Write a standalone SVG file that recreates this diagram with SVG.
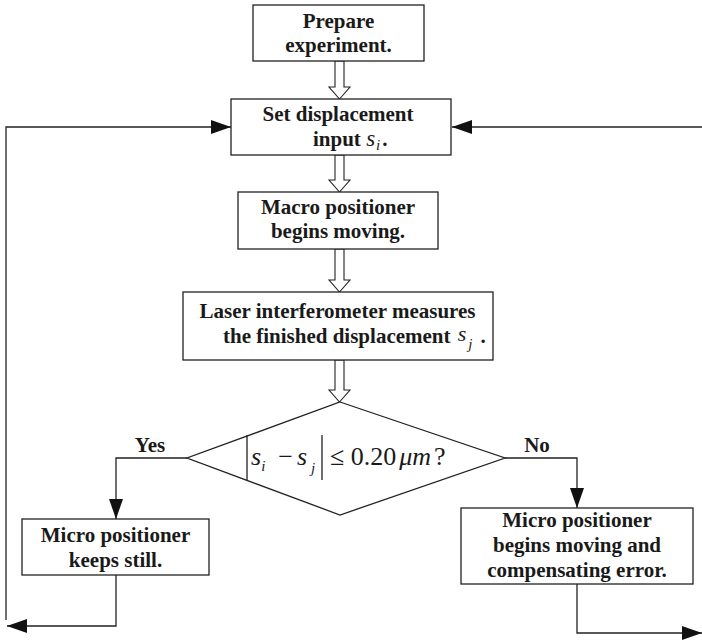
<svg xmlns="http://www.w3.org/2000/svg" width="702" height="640" viewBox="0 0 702 640">
<style>
.box{fill:#fff;stroke:#222;stroke-width:1.3}
.ln{fill:none;stroke:#222;stroke-width:1.3}
.hol{fill:#fff;stroke:#222;stroke-width:1.1}
text{font-family:"Liberation Serif","DejaVu Serif","Times New Roman",Times,serif;fill:#1a1a1a}
.t{font-weight:bold;font-size:21px;text-anchor:middle}
.ts{font-weight:bold;font-size:21px}
.i{font-style:italic;font-weight:normal}
.m{font-size:26px}
.sub{font-style:italic;font-weight:normal;font-size:15px}
</style>
<defs>
<marker id="ah" viewBox="0 0 20 14" refX="20" refY="7" markerWidth="20" markerHeight="14" markerUnits="userSpaceOnUse" orient="auto">
<path d="M0,0 L20,7 L0,14 Z" fill="#111"/>
</marker>
</defs>
<g id="connectors">
<path class="hol" d="M335,61 L344,61 L344,87 L350,87 L339.5,99 L329,87 L335,87 Z"/>
<path class="hol" d="M335,155 L344,155 L344,180 L350,180 L339.5,192 L329,180 L335,180 Z"/>
<path class="hol" d="M335,249 L344,249 L344,280 L350,280 L339.5,292 L329,280 L335,280 Z"/>
<path class="hol" d="M335,360 L344,360 L344,390 L350,390 L339.5,402 L329,390 L335,390 Z"/>
<path class="ln" d="M187,458 L116,458 L116,519" marker-end="url(#ah)"/>
<path class="ln" d="M505,458 L577,458 L577,508" marker-end="url(#ah)"/>
<path class="ln" d="M116,575 L116,626 L7,626" marker-end="url(#ah)"/>
<path class="ln" d="M577,584 L577,633 L702,633" marker-end="url(#ah)"/>
<path class="ln" d="M6,620 L6,127 L231,127" marker-end="url(#ah)"/>
<path class="ln" d="M702,127 L452,127" marker-end="url(#ah)"/>
</g>
<g id="prepare">
<rect class="box" x="253" y="5" width="171" height="56"/>
<text class="t" x="338.5" y="28">Prepare</text>
<text class="t" x="338.5" y="52">experiment.</text>
</g>
<g id="set">
<rect class="box" x="231" y="99" width="220" height="56"/>
<text class="t" x="338" y="121">Set displacement</text>
<text class="ts" x="313" y="146">input <tspan class="i" font-size="23">s</tspan><tspan class="sub" dy="4" dx="1">i</tspan><tspan dy="-4" dx="2">.</tspan></text>
</g>
<g id="macro">
<rect class="box" x="238" y="192" width="200" height="57"/>
<text class="t" x="338" y="214">Macro positioner</text>
<text class="t" x="338" y="238">begins moving.</text>
</g>
<g id="laser">
<rect class="box" x="183" y="292" width="310" height="68"/>
<text class="t" x="337.5" y="318">Laser interferometer measures</text>
<text class="ts" x="223" y="343">the finished displacement <tspan class="i" font-size="22" dy="-2" dx="2">s</tspan><tspan class="sub" dy="8" dx="2">j</tspan><tspan dy="-6" dx="8">.</tspan></text>
</g>
<g id="decision">
<path class="box" d="M340,402 L505,458 L340,515 L187,458 Z"/>
<path class="ln" d="M247,435 L247,480 M322,435 L322,480"/>
<text class="m" x="251" y="465"><tspan class="i">s</tspan><tspan class="sub" dy="6">i</tspan><tspan dy="-6" dx="13">−</tspan><tspan class="i" dx="4">s</tspan><tspan class="sub" dy="8" dx="4">j</tspan></text>
<text class="m" x="330" y="465">≤ 0.20<tspan class="i" dx="3">μm</tspan><tspan dx="3">?</tspan></text>
<text class="t" x="150" y="452">Yes</text>
<text class="t" x="537" y="452">No</text>
</g>
<g id="still">
<rect class="box" x="22" y="519" width="187" height="56"/>
<text class="t" x="115.5" y="542">Micro positioner</text>
<text class="t" x="115.5" y="567">keeps still.</text>
</g>
<g id="compensate">
<rect class="box" x="461" y="508" width="232" height="76"/>
<text class="t" x="577" y="527">Micro positioner</text>
<text class="t" x="577" y="552">begins moving and</text>
<text class="t" x="577" y="577">compensating error.</text>
</g>
</svg>
